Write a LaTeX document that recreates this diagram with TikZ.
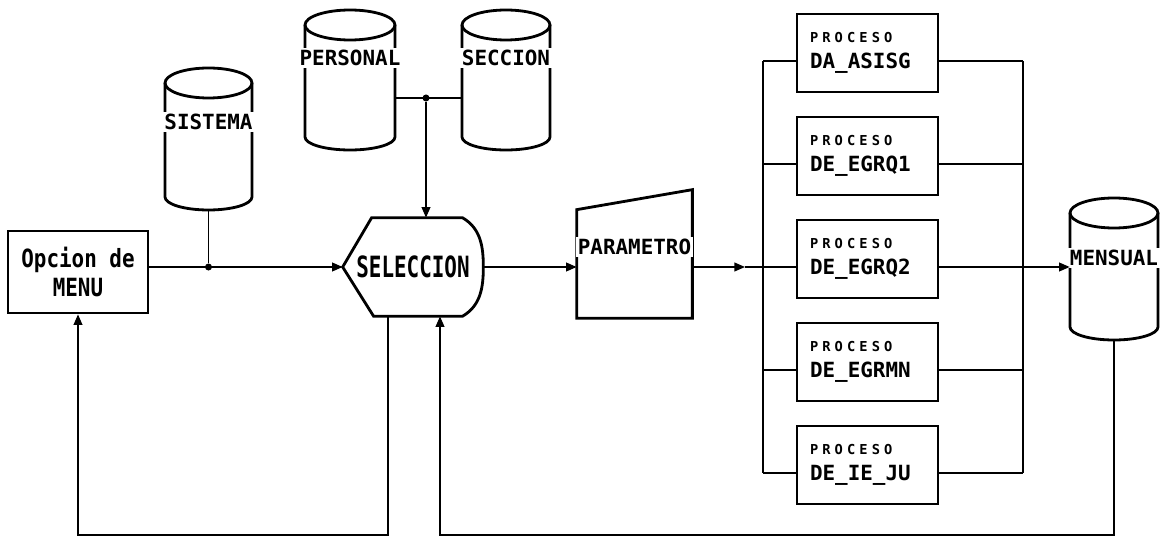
\documentclass[tikz,border=0pt]{standalone}
\usepackage{fontspec}
\usetikzlibrary{arrows.meta, calc}

\newfontfamily\matriz{DejaVu Sans Mono}
\newcommand\letra{\matriz\bfseries\fontsize{11.9}{14}\selectfont}
\newcommand\pequena{\matriz\fontsize{7.8}{9}\selectfont\addfontfeatures{LetterSpace=30}}

% archivo: nombre, x, y, medio ancho, alto
\newcommand\archivo[5]{%
	\node[minimum width=#4*0.04cm, minimum height=#5*0.02cm, inner sep=0pt] (#1) at (#2,#3) {};
	\draw[borde] (#2-#4, #3+#5/2-15) -- (#2-#4, #3-#5/2+13)
		arc[start angle=180, end angle=360, x radius=#4*0.02cm, y radius=13*0.02cm]
		-- (#2+#4, #3+#5/2-15);
	\draw[borde] (#2, #3+#5/2-15) ellipse [x radius=#4*0.02cm, y radius=15*0.02cm];
}

\begin{document}
\begin{tikzpicture}[x=0.02cm, y=0.02cm,
    borde/.style={line width=1.6pt},
    caja/.style={rectangle, draw, line width=1.6pt, minimum width=2.8cm, minimum height=1.64cm, inner sep=0pt, font=\letra, align=center},
    proceso/.style={rectangle, draw, line width=1.6pt, minimum height=1.56cm, inner xsep=0.26cm, inner ysep=0pt, text width=2.3cm, align=left, font=\letra},
    etiqueta/.style={fill=white, inner sep=1pt, font=\letra},
    linea/.style={line width=0.8pt},
    flecha/.style={linea, -{Triangle[length=6pt, width=5pt]}},
    punto/.style={circle, fill, inner sep=0pt, minimum size=4pt}
  ]
	\useasboundingbox (0,0) rectangle (1166,538);

	%Bloques de entrada
		\node[caja] (menu) at (78,266) {\scalebox{1}[1.2]{Opcion de}\\[3pt]\scalebox{1}[1.2]{MENU}};
		\archivo{sis}{208.5}{399}{43.5}{142}
		\archivo{per}{350}{458}{45}{140}
		\archivo{sec}{506}{458}{44}{140}

	%Seleccion
		\node[minimum width=2.8cm, minimum height=1.96cm, inner sep=0pt, font=\letra] (sel) at (413,271) {\scalebox{1}[1.4]{SELECCION}};
		\draw[borde] (sel.west) -- ($(sel.north west)+(29,0)$) -- ($(sel.north east)+(-21,0)$)
			to[out=-30, in=90] (sel.east) to[out=-90, in=30] ($(sel.south east)+(-21,0)$)
			-- ($(sel.south west)+(31,0)$) -- cycle;

	%Parametro
		\node[minimum width=2.3cm, minimum height=2.56cm, inner sep=0pt] (param) at (634.5,284) {};
		\draw[borde] (param.south west) -- ($(param.north west)+(0,-20)$) -- (param.north east) -- (param.south east) -- cycle;

	%Procesos
		\node[proceso] (p1) at (867.5,485) {{\pequena PROCESO}\\[1pt]DA\_ASISG};
		\node[proceso] (p2) at (867.5,382) {{\pequena PROCESO}\\[1pt]DE\_EGRQ1};
		\node[proceso] (p3) at (867.5,279) {{\pequena PROCESO}\\[1pt]DE\_EGRQ2};
		\node[proceso] (p4) at (867.5,176) {{\pequena PROCESO}\\[1pt]DE\_EGRMN};
		\node[proceso] (p5) at (867.5,73) {{\pequena PROCESO}\\[1pt]DE\_IE\_JU};

	%Salida
		\archivo{men}{1114}{269}{44}{142}

	%Etiquetas de los archivos
		\node[etiqueta] (lsis) at (208.5,416) {SISTEMA};
		\node[etiqueta] (lper) at (350,480) {PERSONAL};
		\node[etiqueta] (lsec) at (506,480) {SECCION};
		\node[etiqueta] (lpar) at (634.5,291) {PARAMETRO};
		\node[etiqueta] (lmen) at (1114,280) {MENSUAL};

	%Entradas a seleccion
		\node[punto] (j1) at (sis.south |- sel.west) {};
		\draw[linea] (sis.south) -- (j1);
		\draw[flecha] (menu.east |- sel.west) -- (sel.west);
		\node[punto] (j2) at (426,440) {};
		\draw[linea] ($(per.east)+(0,-18)$) -- ($(sec.west)+(0,-18)$);
		\draw[flecha] (j2) -- (j2 |- sel.north);

	%Seleccion a parametro y procesos
		\draw[flecha] (sel.east) -- (sel.east -| param.west);
		\coordinate (fp) at (745,271);
		\draw[flecha] (sel.east -| param.east) -- (fp);

		\coordinate (e1) at ($(p1.west)+(0,-8)$);
		\coordinate (e2) at ($(p2.west)+(0,-8)$);
		\coordinate (e3) at ($(p3.west)+(0,-8)$);
		\coordinate (e4) at ($(p4.west)+(0,-8)$);
		\coordinate (e5) at ($(p5.west)+(0,-8)$);
		\coordinate (s1) at ($(p1.east)+(0,-8)$);
		\coordinate (s2) at ($(p2.east)+(0,-8)$);
		\coordinate (s3) at ($(p3.east)+(0,-8)$);
		\coordinate (s4) at ($(p4.east)+(0,-8)$);
		\coordinate (s5) at ($(p5.east)+(0,-8)$);
		\coordinate (bi) at (763,0);
		\coordinate (bd) at (1023,0);

		\draw[linea] (fp) -- (e3);
	%Barra izquierda
		\draw[linea] (e1 -| bi) -- (e5 -| bi);
		\draw[linea] (e1 -| bi) -- (e1);
		\draw[linea] (e2 -| bi) -- (e2);
		\draw[linea] (e4 -| bi) -- (e4);
		\draw[linea] (e5 -| bi) -- (e5);
	%Barra derecha
		\draw[linea] (s1 -| bd) -- (s5 -| bd);
		\draw[linea] (s1) -- (s1 -| bd);
		\draw[linea] (s2) -- (s2 -| bd);
		\draw[linea] (s4) -- (s4 -| bd);
		\draw[linea] (s5) -- (s5 -| bd);
		\draw[flecha] (s3) -- (s3 -| men.west);

	%Retornos
		\coordinate (c1) at (388,3);
		\coordinate (c2) at (440,3);
		\draw[flecha] (c1 |- sel.south) -- (c1) -| (menu.south);
		\draw[flecha] (men.south) |- (c2) -- (c2 |- sel.south);

\end{tikzpicture}
\end{document}
